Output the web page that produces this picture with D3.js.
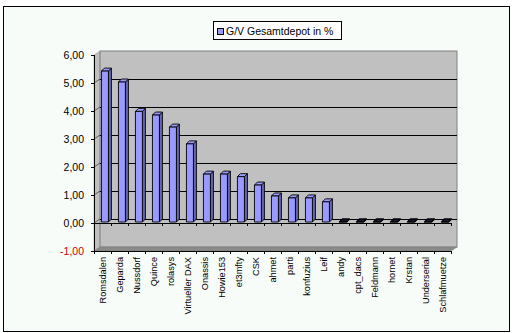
<!DOCTYPE html>
<html><head><meta charset="utf-8">
<script src="https://cdn.jsdelivr.net/npm/d3@7"></script>
<style>html,body{margin:0;padding:0;background:#fff;}svg{display:block;}</style>
</head><body>
<svg id="chart" width="514" height="333"></svg>
<script>
const categories = ["Romsdalen","Geparda","Nussdorf","Quince","rolasys","Virtueller DAX","Onassis","Howie153","et3mfty","CSK","ahmet","parti","konfuzius","Leif","andy","cpt_dacs","Feldmann","hornet","Krstan","Underserial","Schlafmuetze"];
const values = [5.39,5.00,3.95,3.82,3.39,2.79,1.71,1.71,1.62,1.32,0.93,0.86,0.86,0.72,0,0,0,0,0,0,0];
const yTicks = [-1,0,1,2,3,4,5,6];
const yTickLabels = ["-1,00","0,00","1,00","2,00","3,00","4,00","5,00","6,00"];
const seriesName = "G/V Gesamtdepot in %";

const svg = d3.select("#chart");
const font = "'Liberation Sans', Arial, sans-serif";

// chart area
svg.append("rect").attr("x",3.5).attr("y",6.5).attr("width",506).attr("height",325)
  .attr("fill","#f8fcf8").attr("stroke","#000").attr("stroke-width",1);

const y = d3.scaleLinear().domain([-1,6]).range([251,55]);
const x = d3.scaleBand().domain(categories).range([94,451]).padding(0);
const DX = 6, DY = -4; // depth of walls

const left = 94, right = 451;
// side wall
svg.append("polygon")
  .attr("points",[[left,y(6)],[left+DX,y(6)+DY],[left+DX,y(-1)+DY],[left,y(-1)]].map(p=>p.join(",")).join(" "))
  .attr("fill","#c0c0c0").attr("stroke","#a0a0a0").attr("stroke-width",0.6);
// back wall
svg.append("rect").attr("x",left+DX).attr("y",y(6)+DY).attr("width",right-left).attr("height",y(-1)-y(6))
  .attr("fill","#c0c0c0").attr("stroke","#808080").attr("stroke-width",1);
// floor
svg.append("polygon")
  .attr("points",[[left,y(-1)],[left+DX,y(-1)+DY],[right+DX,y(-1)+DY],[right,y(-1)]].map(p=>p.join(",")).join(" "))
  .attr("fill","#8a8a8a").attr("stroke","#808080").attr("stroke-width",0.6);

// gridlines on back wall and side wall
const grid = [0,1,2,3,4,5];
svg.append("g").selectAll("line.gb").data(grid).join("line")
  .attr("x1",left+DX).attr("x2",right+DX)
  .attr("y1",d=>Math.round(y(d)+DY)+0.5).attr("y2",d=>Math.round(y(d)+DY)+0.5)
  .attr("stroke","#000").attr("stroke-width",1);
svg.append("g").selectAll("line.gs").data(grid).join("line")
  .attr("x1",left).attr("x2",left+DX)
  .attr("y1",d=>y(d)).attr("y2",d=>y(d)+DY)
  .attr("stroke","#000").attr("stroke-width",0.5);

// value axis
const yAxis = svg.append("g");
yAxis.append("line").attr("x1",left+0.5).attr("x2",left+0.5).attr("y1",y(6)).attr("y2",y(-1))
  .attr("stroke","#000");
yAxis.selectAll("line.t").data(yTicks).join("line")
  .attr("x1",left-3).attr("x2",left).attr("y1",d=>Math.round(y(d))+0.5).attr("y2",d=>Math.round(y(d))+0.5)
  .attr("stroke","#000");
yAxis.selectAll("text").data(yTicks).join("text")
  .attr("x",84).attr("y",d=>y(d)).attr("dy","0.35em").attr("text-anchor","end")
  .attr("font-family",font).attr("font-size","10.5px")
  .attr("fill",d=>d<0?"#cc0000":"#000")
  .text((d,i)=>yTickLabels[i]);

// category axis at floor front
const bounds = d3.range(categories.length+1).map(i=>left + i*x.bandwidth());
svg.append("line").attr("x1",left).attr("x2",right).attr("y1",y(-1)+0.5).attr("y2",y(-1)+0.5).attr("stroke","#000");
svg.append("g").selectAll("line").data(bounds).join("line")
  .attr("x1",d=>Math.round(d)+0.5).attr("x2",d=>Math.round(d)+0.5)
  .attr("y1",y(-1)).attr("y2",y(-1)+3).attr("stroke","#000");

// bars
const bw = x.bandwidth()*0.41;
const bdy = -1;            // bar front plane offset
const sdx = 3, sdy = -3;   // bar depth
const bars = svg.append("g");
categories.forEach((c,i)=>{
  const v = values[i];
  const x0 = x(c) + x.bandwidth()*0.35 + 1.5;
  const yt = y(v)+bdy, yb = y(0)+bdy;
  const x1 = x0 + bw;
  const flat = (yb-yt) <= 0.5;
  const g = bars.append("g").attr("stroke","#000").attr("stroke-width",0.9).attr("stroke-linejoin","round");
  g.append("polygon").attr("points",[[x1,yt],[x1+sdx,yt+sdy],[x1+sdx,yb+sdy],[x1,yb]].map(p=>p.join(",")).join(" "))
    .attr("fill","#6666b0");
  g.append("polygon").attr("points",[[x0,yt],[x0+sdx,yt+sdy],[x1+sdx,yt+sdy],[x1,yt]].map(p=>p.join(",")).join(" "))
    .attr("fill", flat ? "#1a1a3a" : "#9999ff").attr("stroke-width", flat ? 1.3 : 0.9);
  if (!flat) {
    g.append("rect").attr("x",x0).attr("y",yt).attr("width",bw).attr("height",yb-yt).attr("fill","#9999ff");
  }
});

// zero line (category axis at value 0)
svg.append("line").attr("x1",left).attr("x2",right).attr("y1",Math.round(y(0))+0.5).attr("y2",Math.round(y(0))+0.5).attr("stroke","#000");
svg.append("g").selectAll("line").data(bounds).join("line")
  .attr("x1",d=>Math.round(d)+0.5).attr("x2",d=>Math.round(d)+0.5)
  .attr("y1",y(0)).attr("y2",y(0)+3).attr("stroke","#000");

// category labels
svg.append("g").selectAll("text").data(categories).join("text")
  .attr("transform",d=>`translate(${x(d)+x.bandwidth()/2},257) rotate(-90)`)
  .attr("text-anchor","end").attr("dy","0.35em")
  .attr("font-family",font).attr("font-size","9.2px").attr("fill","#000")
  .text(d=>d);

// legend
const lg = svg.append("g");
lg.append("rect").attr("x",213.5).attr("y",21.5).attr("width",128).attr("height",18)
  .attr("fill","#fff").attr("stroke","#000");
lg.append("rect").attr("x",217.5).attr("y",28.5).attr("width",6).attr("height",6)
  .attr("fill","#9999ff").attr("stroke","#000");
lg.append("text").attr("x",226).attr("y",31).attr("dy","0.35em")
  .attr("font-family",font).attr("font-size","10.5px").text(seriesName);
</script>
</body></html>
